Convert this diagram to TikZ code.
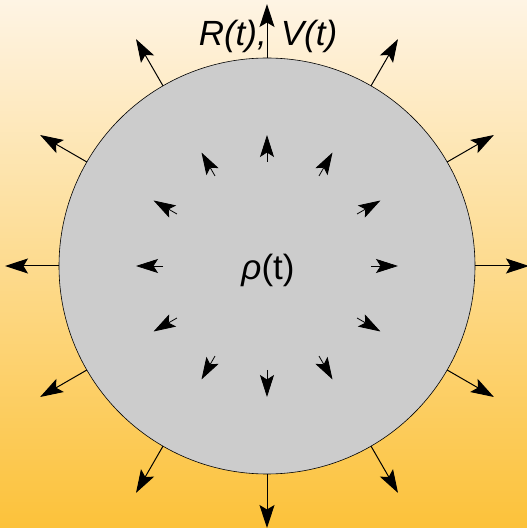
\documentclass[tikz,border=0pt]{standalone}
\usepackage{fontspec}
\setmainfont{Liberation Sans}
\usetikzlibrary{arrows.meta,calc}
\definecolor{bgtop}{RGB}{254,244,228}
\definecolor{bgbot}{RGB}{252,194,58}
\definecolor{disk}{RGB}{204,204,204}
\begin{document}
\begin{tikzpicture}[x=1pt,y=1pt,
  outarrow/.style={line width=1pt,-{Stealth[length=23pt,width=15pt,inset=4.5pt]}},
  inarrow/.style={line width=0.8pt,-{Stealth[length=22pt,width=14pt,inset=4.5pt]}}]
\shade[top color=bgtop,bottom color=bgbot] (0,0) rectangle (527,528);
\useasboundingbox (0,0) rectangle (527,528);
\coordinate (c) at (267,262);
\node[circle,draw=black,line width=0.6pt,fill=disk,minimum size=416pt,inner sep=0pt] (ball) at (c) {};
\foreach \a in {0,30,...,330}{
  \coordinate (o1) at ($(c)+(\a:208)$);
  \coordinate (o2) at ($(c)+(\a:262)$);
  \draw[outarrow] (o1) -- (o2);
  \coordinate (i1) at ($(c)+(\a:104)$);
  \coordinate (i2) at ($(c)+(\a:131)$);
  \draw[inarrow] (i1) -- (i2);
}
\node[font=\fontsize{35}{37}\selectfont\itshape,anchor=base,inner sep=0pt] (rv) at (268,482) {R(t),\hspace{14pt}V(t)};
\node[font=\fontsize{35}{37}\selectfont,anchor=base,inner sep=0pt] (rho) at (268,248) {{\itshape ρ}(t)};
\end{tikzpicture}
\end{document}
